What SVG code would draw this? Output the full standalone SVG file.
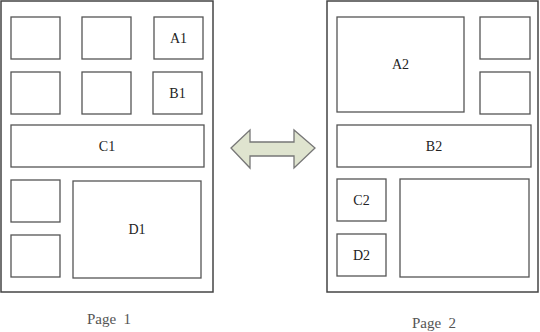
<svg xmlns="http://www.w3.org/2000/svg" width="540" height="332" viewBox="0 0 540 332">
<style>
.page{fill:#fff;stroke:#444;stroke-width:1.5}
.box{fill:#fff;stroke:#555;stroke-width:1.3}
.lbl{font-family:"Liberation Serif",serif;font-size:14px;fill:#222;text-anchor:middle;dominant-baseline:central}
.cap{font-family:"Liberation Serif",serif;font-size:15px;fill:#555;text-anchor:middle}
</style>
<rect width="540" height="332" fill="#fff"/>
<g id="page1">
<rect class="page" x="1" y="1" width="212" height="291"/>
<text class="cap" x="109" y="324" xml:space="preserve">Page  1</text>
</g>
<g id="p1-r1c1"><rect class="box" x="11" y="17" width="49" height="42"/></g>
<g id="p1-r1c2"><rect class="box" x="82" y="17" width="49" height="42"/></g>
<g id="A1"><rect class="box" x="154" y="17" width="49" height="42"/><text class="lbl" x="178.5" y="38">A1</text></g>
<g id="p1-r2c1"><rect class="box" x="11" y="72" width="49" height="42"/></g>
<g id="p1-r2c2"><rect class="box" x="82" y="72" width="49" height="42"/></g>
<g id="B1"><rect class="box" x="153" y="72" width="49" height="42"/><text class="lbl" x="177.5" y="93">B1</text></g>
<g id="C1"><rect class="box" x="11" y="125" width="193" height="42"/><text class="lbl" x="107" y="146">C1</text></g>
<g id="p1-r4c1"><rect class="box" x="11" y="180" width="49" height="42"/></g>
<g id="p1-r5c1"><rect class="box" x="11" y="235" width="49" height="42"/></g>
<g id="D1"><rect class="box" x="73" y="181" width="128" height="97"/><text class="lbl" x="137" y="229">D1</text></g>

<g id="page2">
<rect class="page" x="327" y="1" width="211" height="291"/>
<text class="cap" x="434" y="328" xml:space="preserve">Page  2</text>
</g>
<g id="A2"><rect class="box" x="337" y="17" width="127" height="95"/><text class="lbl" x="400.5" y="64">A2</text></g>
<g id="p2-r1c2"><rect class="box" x="480" y="17" width="50" height="42"/></g>
<g id="p2-r2c2"><rect class="box" x="480" y="72" width="50" height="42"/></g>
<g id="B2"><rect class="box" x="337" y="125" width="194" height="42"/><text class="lbl" x="434" y="146">B2</text></g>
<g id="C2"><rect class="box" x="337" y="179" width="49" height="42"/><text class="lbl" x="361.5" y="200">C2</text></g>
<g id="D2"><rect class="box" x="337" y="234" width="49" height="42"/><text class="lbl" x="361.5" y="255">D2</text></g>
<g id="p2-big"><rect class="box" x="400" y="179" width="129" height="98"/></g>

<g id="connectors">
<polygon points="231,148 250,130 250,142 294,142 294,130 315,148 294,168 294,156 250,156 250,168" fill="#dfe4cf" stroke="#777" stroke-width="1.3" stroke-linejoin="miter"/>
</g>
</svg>
